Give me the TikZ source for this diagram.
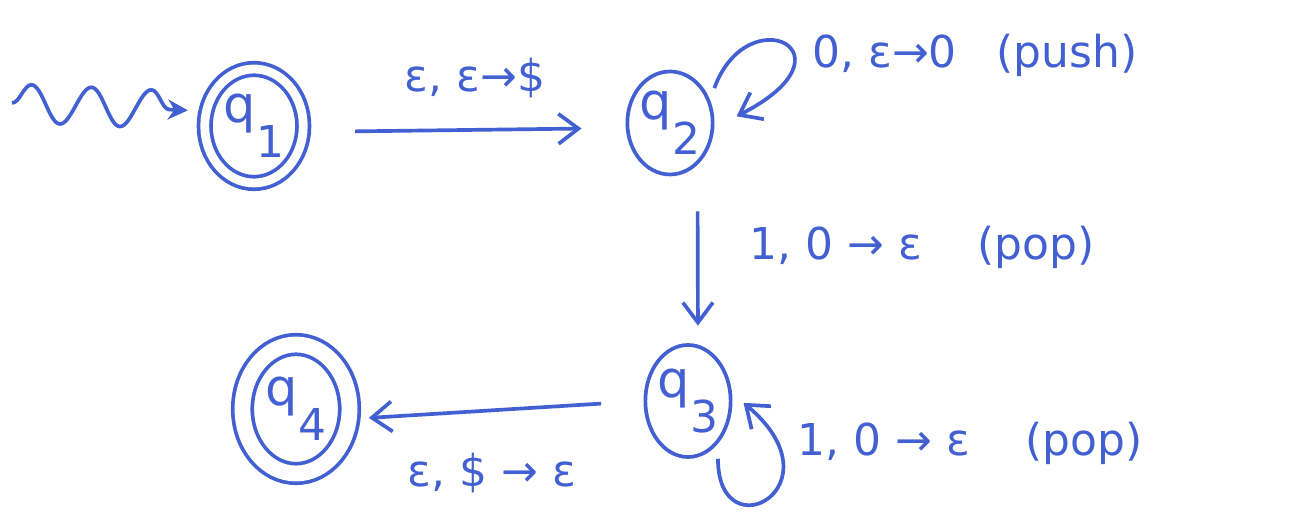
\documentclass[tikz,border=0pt]{standalone}
\usepackage{fontspec}
\setmainfont{DejaVu Sans}
\usetikzlibrary{arrows.meta,decorations.pathmorphing,shapes.geometric}

\definecolor{ink}{RGB}{66,96,210}
\newcommand{\qsub}[1]{{\fontsize{29}{34}\selectfont q}\raisebox{-0.8em}{#1}}

\tikzset{
  pdastate/.style={ellipse, draw=ink, line width=2.1pt, inner sep=0pt, text=ink},
  pdaaccept/.style={pdastate, double=white, double distance=5pt},
  trans/.style={draw=ink, line width=2.1pt, -{Straight Barb[length=4mm,width=6mm]}},
  lbl/.style={text=ink, inner sep=0pt},
}

\begin{document}
\begin{tikzpicture}[font=\fontsize{25}{30}\selectfont]
    \useasboundingbox (0,0) rectangle (25.8,10.34);
    \node[pdaaccept, minimum width=1.97cm, minimum height=2.28cm] (q1) at (5.08,7.82) {\qsub{1}};
    \node[pdastate, minimum width=1.44cm, minimum height=2.06cm] (q2) at (13.4,7.88) {\qsub{2}};
    \node[pdastate, minimum width=1.7cm, minimum height=2.24cm] (q3) at (13.76,2.32) {\qsub{3}};
    \node[pdaaccept, double distance=9pt, minimum width=2.14cm, minimum height=2.58cm] (q4) at (5.92,2.16) {\qsub{4}};
    \coordinate (start) at (0.24,8.28);

    \draw[ink, line width=2.1pt, decorate,
          decoration={snake, amplitude=0.38cm, segment length=1.2cm, post length=4mm},
          -{Stealth[length=4mm,width=4mm]}, shorten >=0.3cm] (start) -- ([yshift=0.3cm]q1.west);
    \draw[trans, shorten <=1cm, shorten >=0.88cm] ([yshift=-0.12cm]q1.east) -- ([yshift=-0.1cm]q2.west);
    \draw[trans, shorten <=0.25cm, shorten >=0.5cm] (q2.30) .. controls +(70:2.2) and +(27:3.3) .. (q2.-6);
    \draw[trans, shorten <=0.7cm, shorten >=0.35cm] ([xshift=0.55cm]q2.south) -- ([xshift=0.2cm]q3.north);
    \draw[trans, shorten <=0.3cm, shorten >=0.3cm] (q3.-55) .. controls +(-90:2.2) and +(-40:2.9) .. (q3.10);
    \draw[trans, shorten <=0.85cm, shorten >=0.35cm] (q3.west) -- ([yshift=-0.2cm]q4.east);

    \node[lbl] (l12) at (9.5,8.78) {ε, ε→\$};
    \node[lbl] (push) at (19.5,9.24) {0, ε→0\hspace{0.8cm}(push)};
    \node[lbl] (pop1) at (18.44,5.4) {1,\ 0 → ε\hspace{1.1cm}(pop)};
    \node[lbl] (pop2) at (19.4,1.48) {1,\ 0 → ε\hspace{1.1cm}(pop)};
    \node[lbl] (l34) at (9.84,0.88) {ε, \$ → ε};
\end{tikzpicture}
\end{document}
